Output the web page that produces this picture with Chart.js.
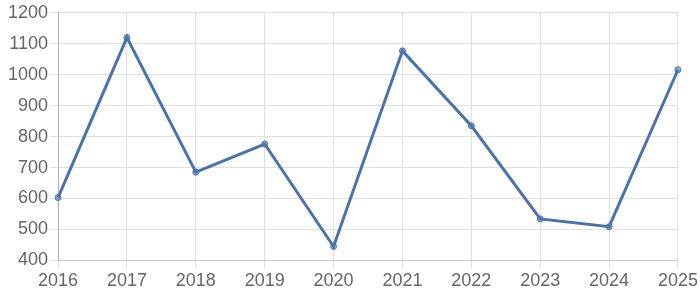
<!DOCTYPE html>
<html>
<head>
    <meta charset="utf-8">
    <title>Chart</title>
    <script src="https://cdn.jsdelivr.net/npm/chart.js@4"></script>
    <style>
        html, body {
            margin: 0;
            padding: 0;
            background: #fff;
        }

        .chart {
            width: 700px;
            height: 300px;
        }
    </style>
</head>
<body>
<div class="chart">
    <canvas id="chart"></canvas>
</div>

<script>
    const years = ['2016', '2017', '2018', '2019', '2020', '2021', '2022', '2023', '2024', '2025'];
    const values = [603, 1120, 685, 776, 445, 1077, 835, 534, 509, 1016];
    const yMin = 400;
    const yMax = 1200;
    const yStep = 100;

    Chart.defaults.font.family = "'Liberation Sans', Arial, sans-serif";
    Chart.defaults.font.size = 18;
    Chart.defaults.color = '#666';

    var ctx = document.getElementById('chart').getContext('2d');
    var chart = new Chart(ctx, {
        type: 'line',
        data: {
            labels: years,
            datasets: [{
                data: values,
                fill: false,
                borderColor: '#4a74a8',
                backgroundColor: 'rgba(74, 116, 168, 0.6)',
                borderWidth: 3,
                pointRadius: 3,
                pointBorderWidth: 1,
                pointBorderColor: '#4a74a8',
                tension: 0
            }]
        },
        options: {
            responsive: true,
            maintainAspectRatio: false,
            animation: false,
            layout: {
                padding: {top: 0, right: 2, left: 6, bottom: 6}
            },
            plugins: {
                legend: {display: false},
                tooltip: {enabled: false}
            },
            scales: {
                x: {
                    grid: {
                        color: '#e0e0e0',
                        tickLength: 8
                    },
                    border: {color: '#c8c8c8'},
                    ticks: {
                        padding: 2,
                        maxRotation: 0
                    }
                },
                y: {
                    min: yMin,
                    max: yMax,
                    grid: {
                        color: '#e0e0e0',
                        tickLength: 8
                    },
                    border: {color: '#b0b0b0'},
                    ticks: {
                        stepSize: yStep,
                        padding: 2,
                        callback: (v) => String(v)
                    }
                }
            }
        }
    });
</script>
</body>
</html>
